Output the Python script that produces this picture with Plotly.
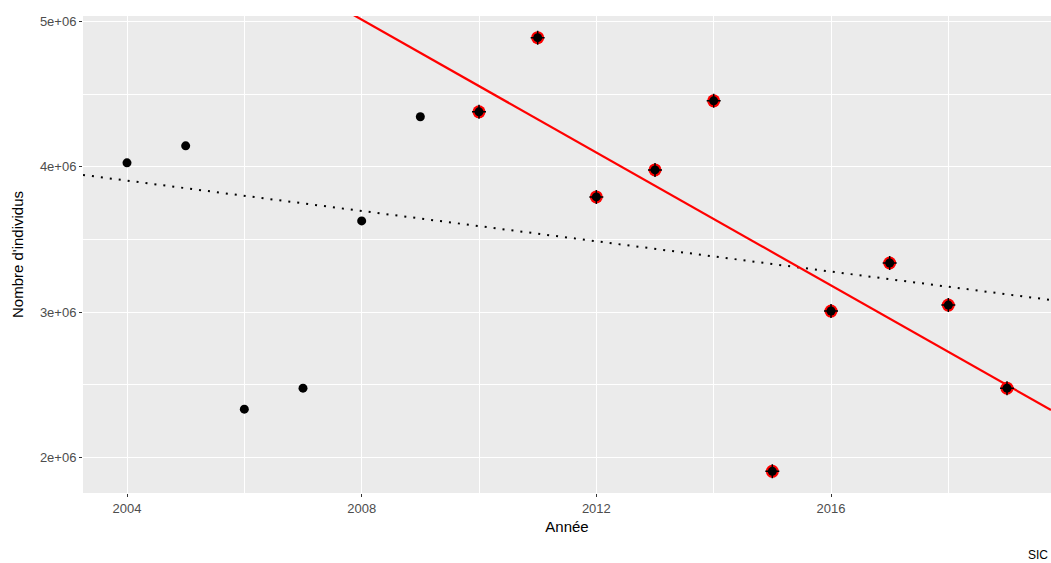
import numpy as np
import plotly.graph_objects as go

# Annual counts
annees = [2004, 2005, 2006, 2007, 2008, 2009, 2010, 2011, 2012, 2013,
          2014, 2015, 2016, 2017, 2018, 2019]
individus = [4028000, 4145000, 2331000, 2476000, 3628000, 4345000, 4379000,
             4890000, 3793000, 3979000, 4455000, 1903000, 3007000, 3338000,
             3048000, 2476000]
debut_periode = 2010  # start of highlighted recent period

x = np.array(annees, dtype=float)
y = np.array(individus, dtype=float)
recent = x >= debut_periode

# axis ranges with ggplot-like 5% expansion
xr = [x.min() - 0.05 * (x.max() - x.min()), x.max() + 0.05 * (x.max() - x.min())]
yr = [y.min() - 0.05 * (y.max() - y.min()), y.max() + 0.05 * (y.max() - y.min())]

# linear fits: all years (dotted) and recent years (red)
b_all = np.polyfit(x, y, 1)
b_rec = np.polyfit(x[recent], y[recent], 1)
xl = np.array(xr)

fig = go.Figure()
fig.add_trace(go.Scatter(x=xl, y=np.polyval(b_all, xl), mode="lines",
                         line=dict(color="black", width=2, dash="2px,7px"),
                         hoverinfo="skip"))
fig.add_trace(go.Scatter(x=xl, y=np.polyval(b_rec, xl), mode="lines",
                         line=dict(color="#FF0000", width=2.2), hoverinfo="skip"))
fig.add_trace(go.Scatter(x=x, y=y, mode="markers",
                         marker=dict(color="black", size=9), cliponaxis=False))
# recent years: red outline with cross
fig.add_trace(go.Scatter(x=x[recent], y=y[recent], mode="markers",
                         marker=dict(color="#FF0000", size=13, symbol="circle"),
                         cliponaxis=False))
fig.add_trace(go.Scatter(x=x[recent], y=y[recent], mode="markers",
                         marker=dict(color="black", size=9, symbol="circle"),
                         cliponaxis=False))
fig.add_trace(go.Scatter(x=x[recent], y=y[recent], mode="markers",
                         marker=dict(color="black", size=10, symbol="cross-thin",
                                     line=dict(color="black", width=1.5)),
                         cliponaxis=False))

fig.update_layout(
    width=1051, height=563,
    margin=dict(l=83, r=0, t=16, b=70),
    paper_bgcolor="white", plot_bgcolor="#EBEBEB",
    showlegend=False,
    font=dict(family="Liberation Sans, Arial, sans-serif", color="black"),
    annotations=[dict(text="SIC", xref="paper", yref="paper", x=1, y=-0.112,
                      xanchor="right", yanchor="top", showarrow=False,
                      font=dict(size=12, color="black"), xshift=-1)],
)
fig.update_xaxes(
    range=xr, tickvals=[2004, 2008, 2012, 2016],
    ticks="outside", ticklen=3, tickcolor="#333333", tickwidth=1,
    tickfont=dict(size=13, color="#4D4D4D"),
    showgrid=True, gridcolor="white", gridwidth=1.3, zeroline=False,
    minor=dict(tickvals=[2006, 2010, 2014, 2018], showgrid=True,
               gridcolor="white", gridwidth=0.6, ticks=""),
    title=dict(text="Année", font=dict(size=15), standoff=6),
    showline=False,
)
fig.update_yaxes(
    range=yr, tickvals=[2e6, 3e6, 4e6, 5e6],
    ticktext=["2e+06", "3e+06", "4e+06", "5e+06"],
    ticks="outside", ticklen=3, tickcolor="#333333", tickwidth=1,
    tickfont=dict(size=13, color="#4D4D4D"),
    showgrid=True, gridcolor="white", gridwidth=1.3, zeroline=False,
    minor=dict(tickvals=[2.5e6, 3.5e6, 4.5e6], showgrid=True,
               gridcolor="white", gridwidth=0.6, ticks=""),
    title=dict(text="Nombre d'individus", font=dict(size=15), standoff=12),
    showline=False,
)

fig.write_html("out.html")
